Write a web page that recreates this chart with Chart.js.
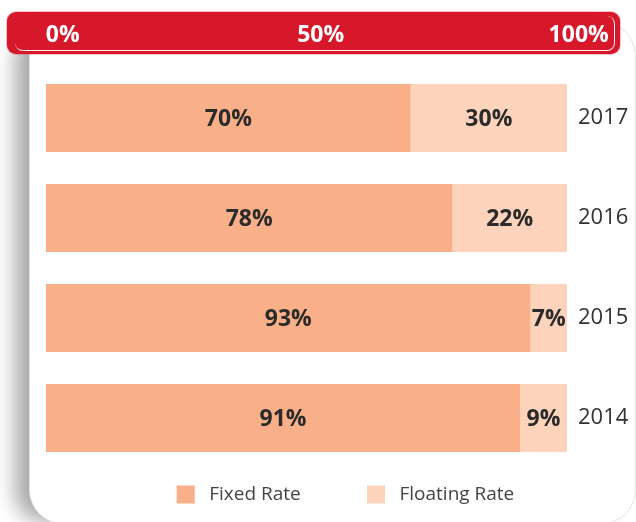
<!DOCTYPE html>
<html>
<head>
<meta charset="utf-8">
<script src="https://cdn.jsdelivr.net/npm/chart.js@4/dist/chart.umd.min.js"></script>
<style>
  html, body { margin: 0; padding: 0; width: 636px; height: 522px; overflow: hidden; background: #fff; }
  #card {
    position: absolute; left: 29px; top: 22px; width: 607px; height: 502px;
    background: #fff; border-radius: 34px; border: 1px solid #e4e4e4; box-sizing: border-box;
    box-shadow: -18px 2px 20px -4px rgba(0,0,0,0.34);
  }
  #redbar {
    position: absolute; left: 7px; top: 12px; width: 613px; height: 42px;
    background: #D7182A; border-radius: 9px; box-shadow: 0 0 0 1px rgba(215,24,42,0.25);
  }
  #redbar::after {
    content: ""; position: absolute; left: 8px; top: 4px; right: 5px; bottom: 3px;
    border-right: 1.5px solid rgba(255,255,255,0.95); border-bottom: 1.5px solid rgba(255,255,255,0.95);
    border-radius: 8px;
  }
  canvas { position: absolute; left: 0; top: 0; }
</style>
</head>
<body>
<div id="card"></div>
<div id="redbar"></div>
<canvas id="c" width="680" height="522"></canvas>
<script>
const years = ['2017', '2016', '2015', '2014'];
const fixedRate = [70, 78, 93, 91];
const floatingRate = [30, 22, 7, 9];
const topTicks = [0, 50, 100];
const seriesNames = ['Fixed Rate', 'Floating Rate'];
const colors = ['#F9AF88', '#FDD3BC'];

const valueLabels = {
  id: 'valueLabels',
  afterDatasetsDraw(chart) {
    const ctx = chart.ctx;
    ctx.save();
    ctx.font = 'bold 23px "Open Sans"';
    ctx.fillStyle = '#2b2b2b';
    ctx.textAlign = 'center';
    ctx.textBaseline = 'middle';
    chart.data.datasets.forEach((ds, di) => {
      const meta = chart.getDatasetMeta(di);
      meta.data.forEach((el, i) => {
        const cx = (el.x + el.base) / 2;
        ctx.fillText(ds.data[i] + '%', cx, el.y + 1);
      });
    });
    ctx.restore();
  }
};

new Chart(document.getElementById('c'), {
  type: 'bar',
  data: {
    labels: years,
    datasets: [
      { label: seriesNames[0], data: fixedRate, backgroundColor: colors[0], xAxisID: 'x' },
      { label: seriesNames[1], data: floatingRate, backgroundColor: colors[1], xAxisID: 'x' }
    ]
  },
  options: {
    indexAxis: 'y',
    responsive: false,
    animation: false,
    barPercentage: 0.68,
    categoryPercentage: 1.0,
    layout: { padding: { left: 46, right: 35, top: 0, bottom: 8 } },
    scales: {
      x: { stacked: true, min: 0, max: 100, display: false },
      x2: {
        position: 'top', type: 'linear', min: -3.23, max: 97.74,
        grid: { display: false, drawTicks: false }, border: { display: false },
        afterBuildTicks: (s) => { s.ticks = topTicks.map(v => ({ value: v })); },
        afterFit: (s) => { s.height = 68; },
        ticks: {
          autoSkip: false, maxRotation: 0, padding: 19, color: '#ffffff',
          font: { family: 'Open Sans', size: 23, weight: 'bold' },
          callback: (v) => v + '%'
        }
      },
      y: {
        stacked: true, position: 'right',
        grid: { display: false, drawTicks: false }, border: { display: false },
        afterFit: (s) => { s.width = 78; },
        ticks: { padding: 11, color: '#333333', font: { family: 'Open Sans', size: 22 } }
      }
    },
    plugins: {
      tooltip: { enabled: false },
      legend: {
        position: 'bottom',
        labels: {
          boxWidth: 18, boxHeight: 18, padding: 17, color: '#444444',
          font: { family: 'Open Sans', size: 19 },
          generateLabels: (chart) => {
            const items = Chart.defaults.plugins.legend.labels.generateLabels(chart);
            items.forEach((it, i) => {
              it.text = ' ' + it.text + (i === 0 ? '          ' : '');
              it.lineWidth = 0;
            });
            return items;
          }
        }
      }
    }
  },
  plugins: [valueLabels]
});
</script>
</body>
</html>
